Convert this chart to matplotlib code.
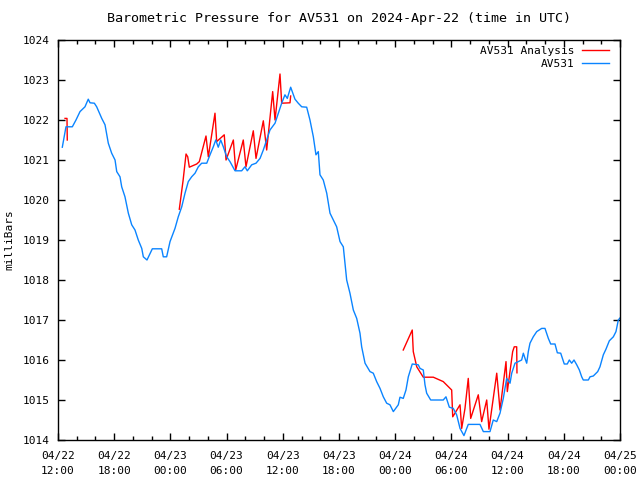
import matplotlib
matplotlib.use('Agg')
import matplotlib.pyplot as plt

# hours since 2024-04-22 12:00 UTC
obs_hours = [0.46, 0.85, 1.53, 1.92, 2.35, 2.88, 3.23, 3.42, 3.88, 4.13, 4.67, 5.02, 5.37, 5.73, 6.09,
             6.27, 6.62, 6.80, 7.15, 7.51, 7.87, 8.22, 8.57, 8.94, 9.11, 9.50, 10.07, 11.07, 11.24, 11.60,
             11.96, 12.49, 12.84, 13.21, 13.56, 13.91, 14.27, 14.63, 14.98, 15.34, 15.88, 16.23, 16.58,
             16.84, 17.11, 17.37, 17.65, 18.01, 18.36, 18.90, 19.61, 19.96, 20.21, 20.68, 21.14, 21.57,
             21.92, 22.28, 22.63, 23.17, 23.52, 23.88, 24.23, 24.48, 24.84, 25.30, 25.65, 26.02, 26.55,
             26.90, 27.26, 27.54, 27.79, 27.97, 28.32, 28.69, 29.04, 29.39, 29.75, 30.11, 30.46, 30.64,
             30.82, 31.17, 31.53, 31.89, 32.24, 32.42, 32.78, 33.31, 33.66, 34.02, 34.38, 34.73, 35.09,
             35.44, 35.80, 36.33, 36.51, 36.86, 37.15, 37.40, 37.82, 38.46, 38.65, 39.00, 39.18, 39.36,
             39.79, 41.13, 41.42, 41.78, 42.20, 42.56, 42.92, 43.34, 43.80, 45.05, 45.41, 46.12, 46.47,
             46.84, 47.19, 47.54, 47.90, 48.26, 48.44, 48.79, 49.14, 49.50, 49.68, 49.86, 50.04, 50.21,
             50.39, 50.74, 51.11, 51.64, 51.99, 52.35, 52.60, 53.06, 53.31, 53.67, 53.88, 54.05, 54.37,
             54.59, 54.84, 55.09, 55.38, 55.66, 55.91, 56.08, 56.62, 56.80, 57.15, 57.62, 57.86, 58.22,
             58.50, 58.86, 59.29, 59.57, 59.82, 60.07]
obs_mb = [1021.32, 1021.83, 1021.83, 1022.0, 1022.21, 1022.33, 1022.52, 1022.43, 1022.42, 1022.33,
          1022.04, 1021.88, 1021.42, 1021.17, 1021.0, 1020.71, 1020.58, 1020.33, 1020.08, 1019.67,
          1019.38, 1019.25, 1019.0, 1018.79, 1018.58, 1018.5, 1018.78, 1018.78, 1018.58, 1018.58,
          1018.96, 1019.29, 1019.58, 1019.83, 1020.17, 1020.46, 1020.58, 1020.67, 1020.83, 1020.92,
          1020.92, 1021.13, 1021.33, 1021.5, 1021.32, 1021.5, 1021.33, 1021.08, 1020.96, 1020.73,
          1020.73, 1020.83, 1020.73, 1020.88, 1020.92, 1021.04, 1021.25, 1021.5, 1021.75, 1021.92,
          1022.17, 1022.42, 1022.63, 1022.54, 1022.82, 1022.52, 1022.42, 1022.33, 1022.32, 1022.0,
          1021.58, 1021.13, 1021.21, 1020.63, 1020.5, 1020.17, 1019.67, 1019.5, 1019.33, 1018.96,
          1018.83, 1018.42, 1018.0, 1017.67, 1017.25, 1017.04, 1016.67, 1016.33, 1015.92, 1015.71,
          1015.67, 1015.46, 1015.29, 1015.08, 1014.92, 1014.88, 1014.71, 1014.88, 1015.07, 1015.04,
          1015.25, 1015.58, 1015.9, 1015.88, 1015.79, 1015.75, 1015.38, 1015.17, 1015.0, 1015.0,
          1015.08, 1014.82, 1014.79, 1014.63, 1014.29, 1014.11, 1014.39, 1014.39, 1014.21, 1014.21,
          1014.5, 1014.46, 1014.67, 1015.04, 1015.54, 1015.42, 1015.67, 1015.92, 1015.96, 1016.0,
          1016.17, 1016.04, 1015.92, 1016.21, 1016.42, 1016.58, 1016.71, 1016.79, 1016.79, 1016.54,
          1016.4, 1016.4, 1016.18, 1016.17, 1016.02, 1015.9, 1015.9, 1016.0, 1015.92, 1016.0,
          1015.88, 1015.75, 1015.58, 1015.5, 1015.5, 1015.58, 1015.6, 1015.71, 1015.83, 1016.13,
          1016.27, 1016.48, 1016.58, 1016.71, 1017.0, 1017.07]

# analysis runs (three separate stretches)
ana1_hours = [0.75, 0.96, 0.99]
ana1_mb = [1022.04, 1022.04, 1021.5]
ana2_hours = [12.95, 13.35, 13.67, 13.85, 14.02, 14.81, 15.09, 15.80, 16.05, 16.76, 16.94, 17.75,
              17.94, 18.72, 18.97, 19.78, 20.07, 20.85, 21.14, 21.92, 22.28, 22.92, 23.17, 23.70,
              23.88, 24.77, 24.84]
ana2_mb = [1019.77, 1020.48, 1021.15, 1021.08, 1020.82, 1020.9, 1020.96, 1021.6, 1021.08, 1022.17,
           1021.46, 1021.63, 1021.0, 1021.5, 1020.75, 1021.5, 1020.83, 1021.73, 1021.04, 1021.98,
           1021.25, 1022.71, 1022.0, 1023.15, 1022.42, 1022.43, 1022.6]
ana3_hours = [36.86, 37.82, 37.93, 38.30, 39.00, 40.07, 41.13, 42.03, 42.14, 42.38, 42.92, 43.10,
              43.45, 43.80, 44.06, 44.87, 45.23, 45.77, 46.01, 46.84, 47.19, 47.83, 47.97, 48.54,
              48.71, 48.97, 49.00]
ana3_mb = [1016.25, 1016.75, 1016.21, 1015.83, 1015.57, 1015.57, 1015.46, 1015.25, 1014.58, 1014.67,
           1014.88, 1014.29, 1014.79, 1015.54, 1014.54, 1015.13, 1014.46, 1015.0, 1014.27, 1015.67,
           1014.75, 1015.96, 1015.21, 1016.21, 1016.33, 1016.33, 1015.68]

tick_hours = [0, 6, 12, 18, 24, 30, 36, 42, 48, 54, 60]
tick_labels = ['04/22\n12:00', '04/22\n18:00', '04/23\n00:00', '04/23\n06:00', '04/23\n12:00',
               '04/23\n18:00', '04/24\n00:00', '04/24\n06:00', '04/24\n12:00', '04/24\n18:00',
               '04/25\n00:00']

plt.rcParams['font.family'] = 'DejaVu Sans Mono'
plt.rcParams['font.size'] = 8

fig = plt.figure(figsize=(6.4, 4.8), dpi=100)
ax = fig.add_axes([58 / 640, 40 / 480, 562 / 640, 400 / 480])

red = '#ff0000'
blue = '#0a84ff'
ax.plot(ana1_hours, ana1_mb, color=red, lw=1, label='AV531 Analysis')
ax.plot(ana2_hours, ana2_mb, color=red, lw=1)
ax.plot(ana3_hours, ana3_mb, color=red, lw=1)
ax.plot(obs_hours, obs_mb, color=blue, lw=1, label='AV531')

ax.set_xlim(0, 60)
ax.set_ylim(1014, 1024)
ax.set_xticks(tick_hours)
ax.set_xticklabels(tick_labels, linespacing=1.6)
ax.set_xticks(range(0, 61, 2), minor=True)
ax.set_yticks(range(1014, 1025))
ax.tick_params(direction='in', top=True, right=True, length=5, width=1, pad=8)
ax.tick_params(axis='y', pad=6)
ax.tick_params(which='minor', direction='in', top=True, length=3, width=1)
for s in ax.spines.values():
    s.set_linewidth(1)

ax.set_ylabel('milliBars', labelpad=6)
ax.set_title('Barometric Pressure for AV531 on 2024-Apr-22 (time in UTC)', pad=13)
ax.legend(loc='upper right', bbox_to_anchor=(0.991, 1.0), frameon=False, markerfirst=False,
          handlelength=2.5, handletextpad=0.6, borderaxespad=0.1, labelspacing=0.3)

fig.savefig('out.png', dpi=100)
